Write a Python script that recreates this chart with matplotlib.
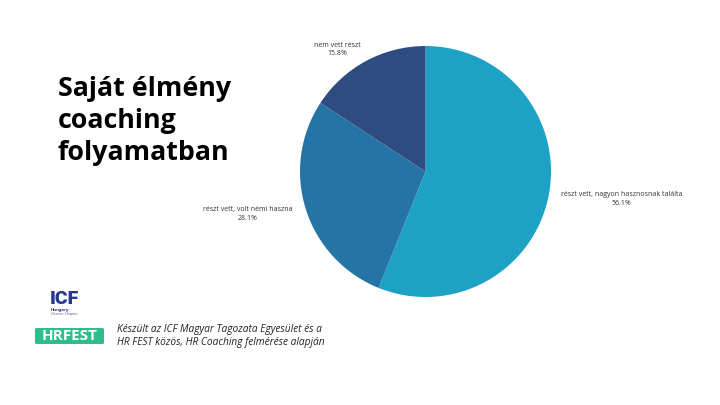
import matplotlib
matplotlib.use("Agg")
import matplotlib.pyplot as plt
from matplotlib.patches import FancyBboxPatch
import numpy as np

# ---- data ----
categories = ["részt vett, nagyon hasznosnak találta",
              "részt vett, volt némi haszna",
              "nem vett részt"]
values = [56.1, 28.1, 15.8]
colors = ["#1DA1C5", "#2474A6", "#2F4C80"]

title_lines = ["Saját élmény", "coaching", "folyamatban"]
footer_lines = ["Készült az ICF Magyar Tagozata Egyesület és a",
                "HR FEST közös, HR Coaching felmérése alapján"]

# label placement style (per slice)
label_dist = [1.58, 1.455, 1.20]
label_angle_shift = [3.0, -4.1, 7.4]

W, H = 720, 405
fig = plt.figure(figsize=(7.2, 4.05), dpi=100)
fig.patch.set_facecolor("white")
ax = fig.add_axes([0, 0, 1, 1])

cx, cy, R = 425.5, H - 171.5, 125.5
wedges, _ = ax.pie(values, colors=colors, startangle=90, counterclock=False,
                   center=(cx, cy), radius=R,
                   wedgeprops=dict(linewidth=0))
ax.set_xlim(0, W)
ax.set_ylim(0, H)
ax.set_aspect("equal")
ax.axis("off")

for w, cat, v, d, sh in zip(wedges, categories, values, label_dist, label_angle_shift):
    mid = np.deg2rad((w.theta1 + w.theta2) / 2 + sh)
    x = cx + R * d * np.cos(mid)
    y = cy + R * d * np.sin(mid)
    ax.text(x, y, f"{cat}\n{v:.1f}%", ha="center", va="center",
            fontsize=5, family="Open Sans", color="#333333", linespacing=1.35)

# title
for i, line in enumerate(title_lines):
    ax.text(58, H - 96 - i * 32, line, ha="left", va="baseline",
            fontsize=19.3, family="Open Sans", fontweight="bold", color="black")

# footer text
for i, line in enumerate(footer_lines):
    ax.text(117, H - 332 - i * 13, line, ha="left", va="baseline",
            fontsize=7.25, family="Open Sans", style="italic", color="#222222")

# ICF logo (text approximation)
ax.text(50, H - 304.5, "ICF", ha="left", va="baseline", fontsize=14,
        family="Roboto", fontweight="black", color="#26378E")
ax.text(51, H - 310.5, "Hungary", ha="left", va="baseline", fontsize=3.1,
        family="Open Sans", fontweight="bold", color="#23338A")
ax.text(51, H - 315.5, "Charter Chapter", ha="left", va="baseline", fontsize=2.7,
        family="Open Sans", style="italic", color="#555577")

# HRFEST badge
box = FancyBboxPatch((35, H - 344), 69, 16, boxstyle="round,pad=0,rounding_size=1.5",
                     facecolor="#2CBF8D", edgecolor="none")
ax.add_patch(box)
ax.text(69.5, H - 336, "HRFEST", ha="center", va="center", fontsize=11,
        family="Open Sans", fontweight="bold", color="white")

fig.savefig("out.png", dpi=100, facecolor="white")
